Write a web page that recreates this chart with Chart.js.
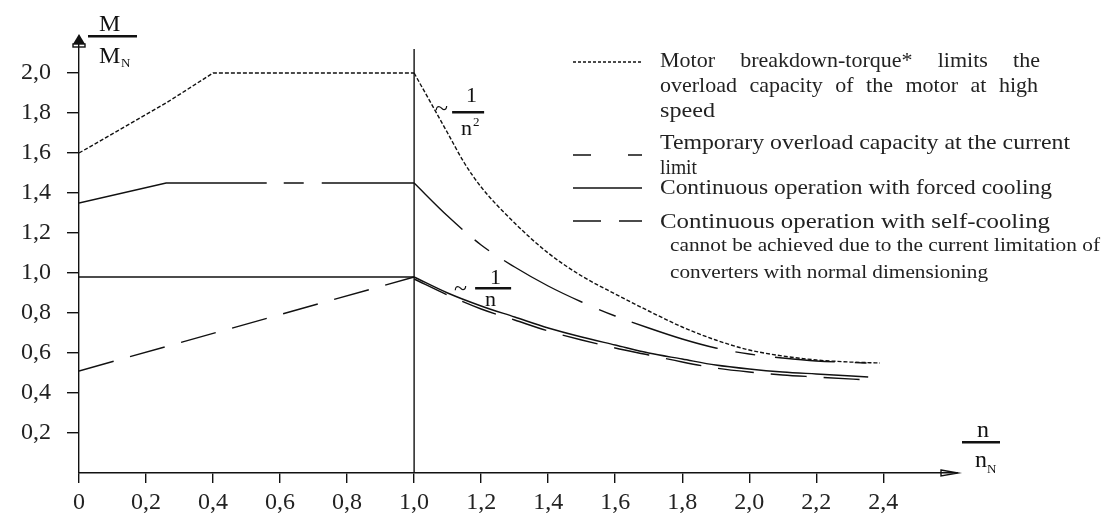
<!DOCTYPE html>
<html>
<head>
<meta charset="utf-8">
<script src="https://cdn.jsdelivr.net/npm/chart.js@4.4.1/dist/chart.umd.min.js"></script>
<style>
  body { margin: 0; background: #fff; }
  #wrap { width: 1105px; height: 519px; }
</style>
</head>
<body>
<div id="wrap"><canvas id="torqueChart"></canvas></div>
<script>
// speed n/nN and torque M/MN
const breakdownLeftN  = [0, 0.26, 0.4, 1.0];
const breakdownLeftM  = [1.6, 1.85, 2.0, 2.0];
const breakdownRightN = [1.0, 1.05, 1.1, 1.15, 1.2, 1.3, 1.4, 1.5, 1.6, 1.7, 1.8, 1.9, 2.0, 2.1, 2.2, 2.3, 2.39];
const breakdownRightM = [2.0, 1.85, 1.70, 1.55, 1.43, 1.25, 1.10, 0.985, 0.895, 0.81, 0.73, 0.665, 0.615, 0.585, 0.565, 0.555, 0.55];

const overloadLeftN  = [0, 0.26, 1.0];
const overloadLeftM  = [1.35, 1.45, 1.45];
const overloadRightN = [1.0, 1.1, 1.2, 1.3, 1.4, 1.5, 1.6, 1.7, 1.8, 1.9, 2.0, 2.1, 2.2, 2.35];
const overloadRightM = [1.45, 1.285, 1.14, 1.03, 0.935, 0.855, 0.785, 0.725, 0.67, 0.625, 0.595, 0.575, 0.56, 0.55];

const forcedLeftN  = [0, 1.0];
const forcedLeftM  = [0.98, 0.98];
const forcedRightN = [1.0, 1.1, 1.2, 1.3, 1.4, 1.5, 1.6, 1.7, 1.8, 1.9, 2.0, 2.1, 2.2, 2.355];
const forcedRightM = [0.98, 0.90, 0.835, 0.78, 0.725, 0.68, 0.64, 0.60, 0.57, 0.54, 0.52, 0.505, 0.495, 0.48];

const selfLeftN  = [0, 1.0];
const selfLeftM  = [0.51, 0.98];
const selfRightN = [1.0, 1.1, 1.2, 1.3, 1.4, 1.5, 1.6, 1.7, 1.8, 1.9, 2.0, 2.1, 2.2, 2.355];
const selfRightM = [0.97, 0.89, 0.82, 0.765, 0.71, 0.665, 0.625, 0.59, 0.555, 0.525, 0.505, 0.49, 0.48, 0.465];

const ratedN = [1.0, 1.0];
const ratedM = [0, 2.12];

const xTicks = [0, 0.2, 0.4, 0.6, 0.8, 1.0, 1.2, 1.4, 1.6, 1.8, 2.0, 2.2, 2.4];
const xTickLabels = ['0', '0,2', '0,4', '0,6', '0,8', '1,0', '1,2', '1,4', '1,6', '1,8', '2,0', '2,2', '2,4'];
const yTicks = [0.2, 0.4, 0.6, 0.8, 1.0, 1.2, 1.4, 1.6, 1.8, 2.0];
const yTickLabels = ['0,2', '0,4', '0,6', '0,8', '1,0', '1,2', '1,4', '1,6', '1,8', '2,0'];

const legendRows = [
    { text: 'Motor breakdown-torque* limits the', y: 67, w: 380, justify: true, dash: [3, 2], lineY: 62 },
    { text: 'overload capacity of the motor at high', y: 92, w: 378, justify: true },
    { text: 'speed', y: 117, w: 55 },
    { text: 'Temporary overload capacity at the current', y: 149, w: 410, dash: [18, 37], lineY: 155 },
    { text: 'limit', y: 174, w: 37 },
    { text: 'Continuous operation with forced cooling', y: 194, w: 392, dash: [], lineY: 188 },
    { text: 'Continuous operation with self-cooling', y: 228, w: 390, dash: [28, 18], lineY: 221 },
    { text: 'cannot be achieved due to the current limitation of', x: 670, y: 251, w: 430, small: true },
    { text: 'converters with normal dimensioning', x: 670, y: 278, w: 318, small: true }
];

const serif = '"Liberation Serif", "Times New Roman", serif';
const ink = '#111';

function pts(ns, ms) {
    return ns.map((n, i) => ({ x: n, y: ms[i] }));
}

function curve(label, ns, ms, dash, smooth) {
    return {
        label: label,
        data: pts(ns, ms),
        borderColor: ink,
        borderWidth: 1.4,
        borderDash: dash,
        pointRadius: 0,
        fill: false,
        tension: 0,
        cubicInterpolationMode: smooth ? 'monotone' : 'default'
    };
}

function fitText(ctx, text, x, y, w) {
    const m = ctx.measureText(text).width;
    ctx.save();
    ctx.translate(x, y);
    ctx.scale(w / m, 1);
    ctx.fillText(text, 0, 0);
    ctx.restore();
}

function justifyText(ctx, text, x, y, w) {
    const words = text.split(' ');
    const widths = words.map(s => ctx.measureText(s).width);
    const gap = (w - widths.reduce((a, b) => a + b, 0)) / (words.length - 1);
    let cx = x;
    words.forEach((s, i) => {
        ctx.fillText(s, cx, y);
        cx += widths[i] + gap;
    });
}

const decorations = {
    id: 'decorations',
    afterDraw(chart) {
        const ctx = chart.ctx;
        const xs = chart.scales.x, ys = chart.scales.y;
        const x0 = xs.getPixelForValue(0), y0 = ys.getPixelForValue(0);
        const xEnd = chart.chartArea.right, yTop = chart.chartArea.top;
        ctx.save();
        ctx.fillStyle = ink;
        ctx.strokeStyle = ink;
        ctx.lineWidth = 1.4;

        // arrow heads
        ctx.beginPath();
        ctx.moveTo(x0, yTop - 8);
        ctx.lineTo(x0 - 6, yTop + 2);
        ctx.lineTo(x0 + 6, yTop + 2);
        ctx.closePath();
        ctx.fill();
        ctx.strokeRect(x0 - 6, yTop + 2, 12, 3);
        ctx.beginPath();
        ctx.moveTo(xEnd - 16, y0 - 3);
        ctx.lineTo(xEnd + 1, y0);
        ctx.lineTo(xEnd - 16, y0 + 3);
        ctx.closePath();
        ctx.stroke();

        // axis titles as fractions
        ctx.textAlign = 'left';
        ctx.textBaseline = 'alphabetic';
        ctx.font = '24px ' + serif;
        ctx.fillText('M', 99, 31);
        ctx.fillRect(88, 35, 49, 2.5);
        ctx.fillText('M', 99, 63);
        ctx.font = '13px ' + serif;
        ctx.fillText('N', 121, 67);

        ctx.font = '24px ' + serif;
        ctx.fillText('n', 977, 437);
        ctx.fillRect(962, 441, 38, 2.5);
        ctx.fillText('n', 975, 467);
        ctx.font = '13px ' + serif;
        ctx.fillText('N', 987, 473);

        // ~ 1/n² and ~ 1/n next to the curves
        const px = xs.getPixelForValue(1.0);
        ctx.font = '24px ' + serif;
        ctx.fillText('~', px + 21, 116);
        ctx.font = '22px ' + serif;
        ctx.fillText('1', px + 52, 102);
        ctx.fillRect(px + 38, 111, 32, 2.5);
        ctx.fillText('n', px + 47, 135);
        ctx.font = '13px ' + serif;
        ctx.fillText('2', px + 59, 126);
        ctx.font = '24px ' + serif;
        ctx.fillText('~', px + 40, 296);
        ctx.font = '22px ' + serif;
        ctx.fillText('1', px + 76, 284);
        ctx.fillRect(px + 61, 287, 36, 2.5);
        ctx.fillText('n', px + 71, 306);

        // legend
        legendRows.forEach(r => {
            ctx.font = (r.small ? '18px ' : '22px ') + serif;
            ctx.fillStyle = '#222';
            const tx = r.x || 660;
            if (r.justify) justifyText(ctx, r.text, tx, r.y, r.w);
            else fitText(ctx, r.text, tx, r.y, r.w);
            if (r.dash) {
                ctx.setLineDash(r.dash);
                ctx.beginPath();
                ctx.moveTo(573, r.lineY);
                ctx.lineTo(642, r.lineY);
                ctx.stroke();
                ctx.setLineDash([]);
            }
        });
        ctx.restore();
    }
};

const ctx = document.getElementById('torqueChart').getContext('2d');
const torqueChart = new Chart(ctx, {
    type: 'line',
    data: {
        datasets: [
            curve('Breakdown torque', breakdownLeftN, breakdownLeftM, [4, 2], false),
            curve('Breakdown torque', breakdownRightN, breakdownRightM, [4, 2], true),
            curve('Temporary overload', overloadLeftN, overloadLeftM, [190, 17, 20, 18, 200], false),
            curve('Temporary overload', overloadRightN, overloadRightM, [67, 16, 18, 18, 89, 18, 18, 17, 90, 18, 20, 20, 60, 20], true),
            curve('Forced cooling', forcedLeftN, forcedLeftM, [], false),
            curve('Forced cooling', forcedRightN, forcedRightM, [], true),
            curve('Self-cooling', selfLeftN, selfLeftM, [36, 17], false),
            curve('Self-cooling', selfRightN, selfRightM, [36, 17], true),
            curve('Rated speed', ratedN, ratedM, [], false)
        ]
    },
    options: {
        responsive: true,
        maintainAspectRatio: false,
        animation: false,
        layout: { padding: { top: 42, right: 148, left: 0, bottom: 0 } },
        plugins: {
            legend: { display: false },
            tooltip: { enabled: false }
        },
        scales: {
            x: {
                type: 'linear',
                min: 0,
                max: 2.62,
                afterBuildTicks: s => { s.ticks = xTicks.map(v => ({ value: v })); },
                afterFit: s => { s.height = 46; },
                grid: { drawOnChartArea: false, drawTicks: true, tickLength: 10, color: ink, lineWidth: 1.4 },
                border: { color: ink, width: 1.4 },
                ticks: {
                    color: '#222',
                    padding: 5,
                    maxRotation: 0,
                    autoSkip: false,
                    font: { family: serif, size: 24 },
                    callback: (v, i) => xTickLabels[i]
                }
            },
            y: {
                type: 'linear',
                min: 0,
                max: 2.155,
                afterBuildTicks: s => { s.ticks = yTicks.map(v => ({ value: v })); },
                afterFit: s => { s.width = 79; },
                grid: { drawOnChartArea: false, drawTicks: true, tickLength: 12, color: ink, lineWidth: 1.4 },
                border: { color: ink, width: 1.4 },
                ticks: {
                    color: '#222',
                    padding: 16,
                    autoSkip: false,
                    font: { family: serif, size: 24 },
                    callback: (v, i) => yTickLabels[i]
                }
            }
        }
    },
    plugins: [decorations]
});
</script>
</body>
</html>
